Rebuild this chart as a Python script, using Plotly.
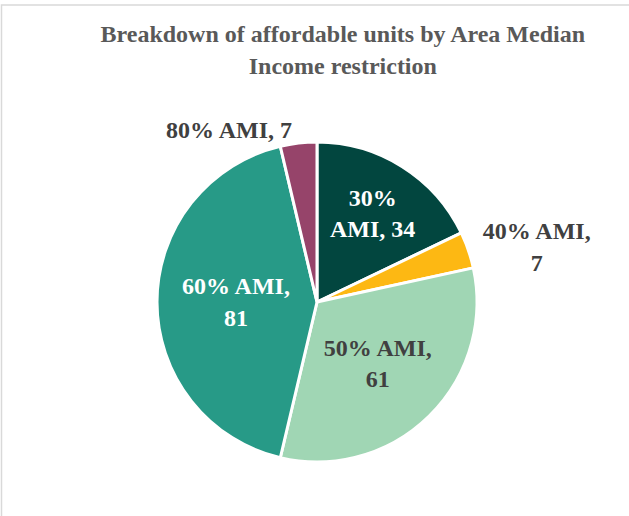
import plotly.graph_objects as go

categories = ["30% AMI", "40% AMI", "50% AMI", "60% AMI", "80% AMI"]
units = [34, 7, 61, 81, 7]
label_text = ["30%<br>AMI, 34", "40% AMI,<br>7", "50% AMI,<br>61", "60% AMI,<br>81", "80% AMI, 7"]
colors = ["#02463F", "#FDB813", "#A0D6B4", "#279A87", "#96446A"]
text_colors = ["#FFFFFF", "#404040", "#404040", "#FFFFFF", "#404040"]
positions = ["inside", "outside", "inside", "inside", "outside"]

W, H = 629, 516
cx, cy, r = 317, 302, 160

fig = go.Figure(go.Pie(
    labels=categories,
    values=units,
    text=label_text,
    texttemplate="<b>%{text}</b>",
    textposition=positions,
    insidetextorientation="horizontal",
    sort=False,
    direction="clockwise",
    rotation=0,
    marker=dict(colors=colors, line=dict(color="#FFFFFF", width=3)),
    textfont=dict(family="Liberation Serif", size=24, color=text_colors),
    outsidetextfont=dict(family="Liberation Serif", size=24, color="#404040"),
    domain=dict(x=[(cx - r) / W, (cx + r) / W], y=[(H - cy - r) / H, (H - cy + r) / H]),
    showlegend=False,
    hoverinfo="label+value",
))

fig.update_layout(
    width=W, height=H,
    margin=dict(l=0, r=0, t=0, b=0),
    paper_bgcolor="#FFFFFF",
    title=dict(
        text="<b>Breakdown of affordable units by Area Median<br>Income restriction</b>",
        x=0.545, xanchor="center", y=0.918, yanchor="top",
        font=dict(family="Liberation Serif", size=24, color="#595959"),
    ),
    shapes=[dict(type="rect", xref="paper", yref="paper",
                 x0=1.5 / W, x1=1.2, y0=-0.2, y1=1 - 5 / H,
                 line=dict(color="#D9D9D9", width=1.5), fillcolor="rgba(0,0,0,0)")],
)

fig.write_html("out.html", config={"displayModeBar": False},
               post_script="document.body.style.margin='0';")
